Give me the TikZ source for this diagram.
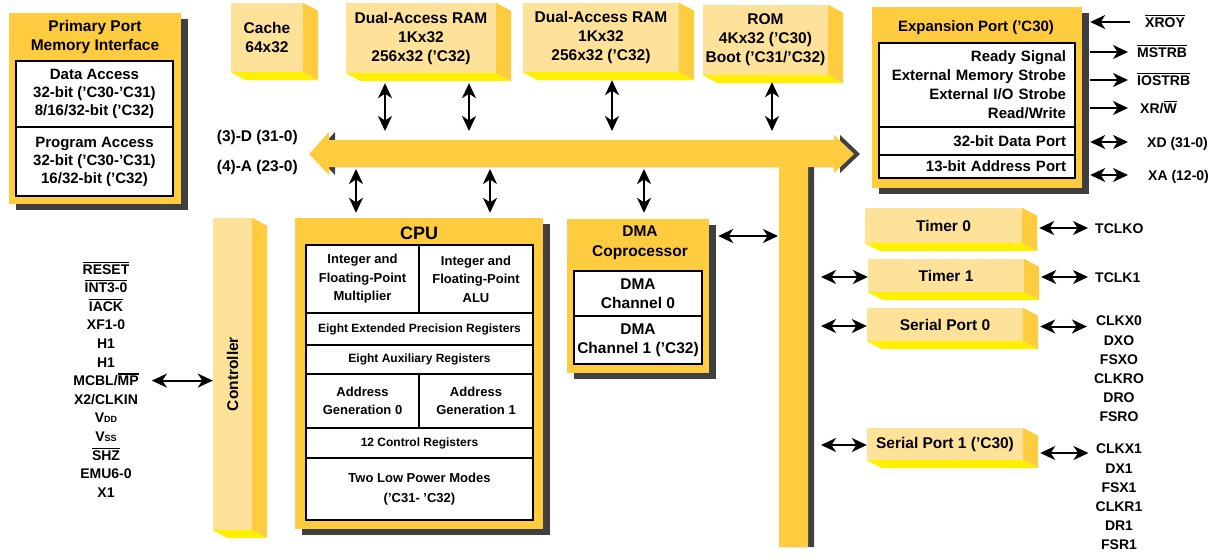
\documentclass[tikz,border=0pt]{standalone}
\usepackage{fontspec}
\setmainfont{Liberation Sans}
\usepackage{graphicx}
\usetikzlibrary{positioning, arrows.meta, shadows}

\definecolor{tiyellow}{HTML}{FFCC40}
\definecolor{tipale}{HTML}{FFE29A}
\definecolor{tilemon}{HTML}{FFF000}
\definecolor{tigrey}{HTML}{404040}

\newcommand{\txtsz}[2]{\fontsize{#1}{#2}\selectfont}
\newcommand{\barsig}[1]{\vbox{\hrule height 1.1pt \kern 1.4pt \hbox{#1}}}

\tikzset{bigtip/.tip={Stealth[length=15pt, width=14pt, inset=4.5pt]}}

\begin{document}
\begin{tikzpicture}
    [x=1pt, y=-1pt,
     every node/.style={inner sep=0pt, align=center, font=\bfseries\txtsz{15.5}{19}},
     slab/.style={fill=tipale},
     panel/.style={fill=tiyellow, drop shadow={shadow xshift=7pt, shadow yshift=-6pt, opacity=1, fill=tigrey}},
     cell/.style={draw, fill=white, line width=1.4pt},
     cpucell/.style={cell, font=\bfseries\txtsz{13}{18.5}},
     expcell/.style={cell, minimum width=196pt, text width=178pt, inner xsep=9pt, align=right, font=\bfseries\txtsz{15}{19}},
     pin/.style={font=\bfseries\txtsz{14}{18.6}, text height=10pt, text depth=0pt},
     pins/.style={font=\bfseries\txtsz{14}{19.2}, anchor=north},
     arr/.style={draw=black, line width=2pt, bigtip-bigtip},
     into/.style={draw=black, line width=2pt, bigtip-},
     outof/.style={draw=black, line width=2pt, -bigtip},
    ]
    \useasboundingbox (0,0) rectangle (1222,557);

    % internal bus
    \foreach \dx/\tint in {6/tigrey, 0/tiyellow}
        \fill [\tint, shift={(\dx,7)}]
            (309,147) -- (329,125) -- (329,133) -- (834,133) -- (834,128) -- (854,147)
            -- (834,166) -- (834,160) -- (808,160) -- (808,540) -- (779,540)
            -- (779,160) -- (329,160) -- (329,168) -- cycle;
    \node (bus-data) [anchor=east] at (298,137) {(3)-D (31-0)};
    \node (bus-addr) [anchor=east] at (298,167) {(4)-A (23-0)};

    \coordinate (tap-m1) at (385,131);
    \coordinate (tap-m2) at (469,131);
    \coordinate (tap-m3) at (612,131);
    \coordinate (tap-rom) at (772,131);
    \coordinate (tap-c1) at (356,169);
    \coordinate (tap-c2) at (490,169);
    \coordinate (tap-dma) at (644,169);
    \coordinate (stem-dma) at (778,236);
    \coordinate (stem-t1) at (821,277);
    \coordinate (stem-s0) at (821,326);
    \coordinate (stem-s1) at (821,445);

    % primary port
    \node (primary) [panel, minimum width=172pt, minimum height=191pt] at (95,108.5) {};
    \node (primary-title) at (95,36.5) {Primary Port\\Memory Interface};
    \node (data-access) [cell, minimum width=157pt, minimum height=66pt, font=\bfseries\txtsz{15}{18}] at (94.5,94)
        {Data Access\\32-bit ('C30-'C31)\\8/16/32-bit ('C32)};
    \node (program-access) [cell, minimum width=157pt, minimum height=69pt, font=\bfseries\txtsz{15}{18}] at (94.5,161.5)
        {Program Access\\32-bit ('C30-'C31)\\16/32-bit ('C32)};

    % memories
    \node (cache) [slab, minimum width=72pt, minimum height=69pt] at (267,37.5) {Cache\\64x32};
    \node (ram-a) [slab, minimum width=150pt, minimum height=70pt] at (421,38) {Dual-Access RAM\\1Kx32\\256x32 ('C32)};
    \node (ram-b) [slab, minimum width=156pt, minimum height=69pt] at (601,37.5) {Dual-Access RAM\\1Kx32\\256x32 ('C32)};
    \node (rom) [slab, minimum width=125pt, minimum height=70pt] at (765.5,40) {ROM\\4Kx32 ('C30)\\Boot ('C31/'C32)};

    % expansion port
    \node (expansion) [panel, minimum width=210pt, minimum height=181pt] at (977,97.5) {};
    \node (expansion-title) [font=\bfseries\txtsz{15}{19}] at (976,28) {Expansion Port ('C30)};
    \node (exp-strobes) [expcell, minimum height=84pt] at (977,85)
        {Ready Signal\\External Memory Strobe\\External I/O Strobe\\Read/Write};
    \node (exp-data) [expcell, minimum height=28pt] at (977,141) {32-bit Data Port};
    \node (exp-addr) [expcell, minimum height=23pt] at (977,166.5) {13-bit Address Port};

    \node (xrdy) [pin, anchor=west] at (1145,22) {\barsig{XROY}};
    \node (mstrb) [pin, anchor=west] at (1137,52) {\barsig{MSTRB}};
    \node (iostrb) [pin, anchor=west] at (1137,80) {\barsig{IOSTRB}};
    \node (xrw) [pin, anchor=west] at (1140,108) {XR/\barsig{W}};
    \node (xd) [pin, anchor=west] at (1147,142) {XD (31-0)};
    \node (xa) [pin, anchor=west] at (1148,175) {XA (12-0)};

    % controller and pins
    \node (controller) [slab, minimum width=39pt, minimum height=312pt] at (232.5,374) {\rotatebox{90}{Controller}};
    \foreach \sig [count=\i] in {\barsig{RESET}, \barsig{INT3-0}, \barsig{IACK}, XF1-0, H1, H1,
            MCBL/\barsig{MP}, X2/CLKIN, V{\txtsz{9}{9}DD}, V{\txtsz{9}{9}SS}, \barsig{SHZ}, EMU6-0, X1}
        \node (sig-\i) [pin] at (106,250.4+18.6*\i) {\sig};

    % cpu
    \node (cpu) [panel, minimum width=248pt, minimum height=311pt] at (419,373.5) {};
    \node (cpu-title) [font=\bfseries\txtsz{18}{20}] at (419,233) {CPU};
    \node (mult) [cpucell, minimum width=113pt, minimum height=68pt] at (362.5,279) {Integer and\\Floating-Point\\Multiplier};
    \node (alu) [cpucell, minimum width=114pt, minimum height=68pt] at (476,279) {Integer and\\Floating-Point\\ALU};
    \node (ext-regs) [cpucell, minimum width=227pt, minimum height=32pt, font=\bfseries\txtsz{12}{16}] at (419.5,329)
        {Eight Extended Precision Registers};
    \node (aux-regs) [cpucell, minimum width=227pt, minimum height=29pt, font=\bfseries\txtsz{12}{16}] at (419.5,359.5)
        {Eight Auxiliary Registers};
    \node (agen-a) [cpucell, minimum width=113pt, minimum height=54pt] at (362.5,401) {Address\\Generation 0};
    \node (agen-b) [cpucell, minimum width=114pt, minimum height=54pt] at (476,401) {Address\\Generation 1};
    \node (ctrl-regs) [cpucell, minimum width=227pt, minimum height=30pt, font=\bfseries\txtsz{12}{16}] at (419.5,443)
        {12 Control Registers};
    \node (power) [cpucell, minimum width=227pt, minimum height=62pt, font=\bfseries\txtsz{13}{20}] at (419.5,489)
        {Two Low Power Modes\\('C31- 'C32)};

    % dma
    \node (dma) [panel, minimum width=142pt, minimum height=154pt] at (638,296) {};
    \node (dma-title) [font=\bfseries\txtsz{15.5}{20}] at (640,243) {DMA\\Coprocessor};
    \node (dma-ch0) [cell, minimum width=128pt, minimum height=45pt] at (638,293.5) {DMA\\Channel 0};
    \node (dma-ch1) [cell, minimum width=128pt, minimum height=48pt] at (638,340) {DMA\\Channel 1 ('C32)};

    % peripherals
    \node (timer-a) [slab, minimum width=157pt, minimum height=35pt] at (943.5,225.5) {Timer 0};
    \node (timer-b) [slab, minimum width=156pt, minimum height=33pt] at (946,275.5) {Timer 1};
    \node (serial-a) [slab, minimum width=156pt, minimum height=33pt] at (945,324.5) {Serial Port 0};
    \node (serial-b) [slab, minimum width=156pt, minimum height=32pt] at (945,444) {Serial Port 1 ('C30)};

    \node (tclk-a) [pin, anchor=west] at (1095,228) {TCLKO};
    \node (tclk-b) [pin, anchor=west] at (1095,277) {TCLK1};
    \node (sp-a-pins) [pins] at (1119,316) {CLKX0\\DXO\\FSXO\\CLKRO\\DRO\\FSRO};
    \node (sp-b-pins) [pins] at (1119,444) {CLKX1\\DX1\\FSX1\\CLKR1\\DR1\\FSR1};

    % block sides
    \foreach \blk in {cache, ram-a, ram-b, rom, controller, timer-a, timer-b, serial-a, serial-b} {
        \fill [tiyellow] (\blk.north east) -- ++(15,8) -- ([shift={(15,8)}]\blk.south east) -- (\blk.south east) -- cycle;
        \fill [tilemon] (\blk.south west) -- (\blk.south east) -- ([shift={(15,8)}]\blk.south east)
            -- ([shift={(15,8)}]\blk.south west) -- cycle;
    }

    \draw [arr] ([yshift=-10pt]ram-a.south -| tap-m1) -- (tap-m1);
    \draw [arr] ([yshift=-10pt]ram-a.south -| tap-m2) -- (tap-m2);
    \draw [arr] ([yshift=-8pt]ram-b.south -| tap-m3) -- (tap-m3);
    \draw [arr] ([yshift=-7pt]rom.south -| tap-rom) -- (tap-rom);
    \draw [arr] (tap-c1) -- ([yshift=5pt]cpu.north -| tap-c1);
    \draw [arr] (tap-c2) -- ([yshift=5pt]cpu.north -| tap-c2);
    \draw [arr] (tap-dma) -- ([yshift=6pt]dma.north -| tap-dma);
    \draw [arr] ([xshift=9pt]dma.east |- stem-dma) -- (stem-dma);
    \draw [arr] (stem-t1) -- (timer-b.west |- stem-t1);
    \draw [arr] (stem-s0) -- (serial-a.west |- stem-s0);
    \draw [arr] (stem-s1) -- (serial-b.west |- stem-s1);

    \draw [arr] ([xshift=13pt]sig-7.east) -- (sig-7.east -| controller.west);

    \draw [into] ([xshift=8pt]expansion.east |- xrdy.west) -- ([xshift=-15pt]xrdy.west);
    \draw [outof] ([xshift=8pt]expansion.east |- mstrb.west) -- ([xshift=-9pt]mstrb.west);
    \draw [outof] ([xshift=8pt]expansion.east |- iostrb.west) -- ([xshift=-9pt]iostrb.west);
    \draw [outof] ([xshift=8pt]expansion.east |- xrw.west) -- ([xshift=-12pt]xrw.west);
    \draw [arr] ([xshift=8pt]expansion.east |- xd.west) -- ([xshift=-19pt]xd.west);
    \draw [arr] ([xshift=8pt]expansion.east |- xa.west) -- ([xshift=-20pt]xa.west);

    \draw [arr] ([xshift=17pt]timer-a.east |- tclk-a.west) -- ([xshift=-7pt]tclk-a.west);
    \draw [arr] ([xshift=17pt]timer-b.east |- tclk-b.west) -- ([xshift=-7pt]tclk-b.west);
    \draw [arr] ([xshift=17pt, yshift=-2pt]serial-a.east) -- ([xshift=-7pt, yshift=-2pt]serial-a.east -| sp-a-pins.west);
    \draw [arr] ([xshift=17pt, yshift=-9pt]serial-b.east) -- ([xshift=-7pt, yshift=-9pt]serial-b.east -| sp-b-pins.west);

\end{tikzpicture}
\end{document}
